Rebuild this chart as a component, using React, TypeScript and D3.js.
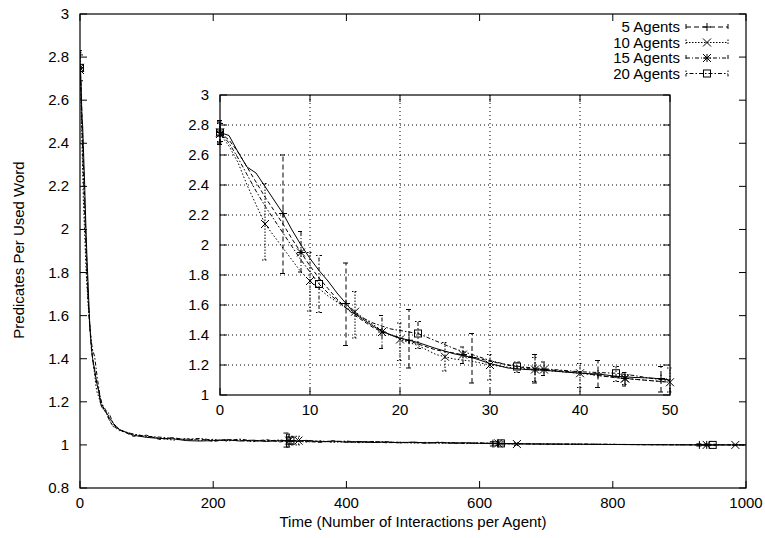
import React from "react";
import * as d3 from "d3";

// ---------- data ----------
const seriesNames = ["5 Agents", "10 Agents", "15 Agents", "20 Agents"];
const markerTypes = ["plus", "cross", "star", "square"];

// x grid (interactions per agent)
const xGrid = [
  0, 1, 2, 3, 4, 5, 6, 7, 8, 9, 10, 11, 12, 13, 14, 15, 16, 17, 18, 19, 20,
  22, 24, 26, 28, 30, 32, 34, 36, 38, 40, 42, 44, 46, 48, 50,
  55, 60, 80, 100, 120, 140, 160, 180, 200, 220, 240, 260, 280, 300, 320, 340, 360, 380, 400,
  420, 440, 460, 480, 500, 520, 540, 560, 580, 600, 650, 700, 750, 800, 850, 900, 950, 1000,
];

const agents5 = [
  2.75, 2.73, 2.62, 2.52, 2.48, 2.39, 2.3, 2.21, 2.1, 2.0, 1.91, 1.83, 1.76, 1.68, 1.61, 1.54, 1.5, 1.46, 1.425, 1.4, 1.38,
  1.35, 1.31, 1.275, 1.25, 1.21, 1.18, 1.17, 1.165, 1.155, 1.145, 1.14, 1.125, 1.117, 1.113, 1.1,
  1.085, 1.07, 1.045, 1.035, 1.03, 1.028, 1.02, 1.018, 1.02, 1.024, 1.018, 1.022, 1.016, 1.02, 1.017, 1.021, 1.014, 1.018, 1.012,
  1.016, 1.011, 1.014, 1.01, 1.013, 1.009, 1.011, 1.008, 1.01, 1.007, 1.005, 1.004, 1.003, 1.002, 1.001, 1.0, 1.0, 1.0,
];
const agents10 = [
  2.74, 2.66, 2.55, 2.4, 2.27, 2.14, 2.06, 1.98, 1.9, 1.82, 1.76, 1.71, 1.66, 1.62, 1.58, 1.555, 1.51, 1.47, 1.43, 1.4, 1.37,
  1.33, 1.27, 1.24, 1.225, 1.2, 1.185, 1.175, 1.165, 1.155, 1.145, 1.13, 1.12, 1.105, 1.095, 1.085,
  1.075, 1.065, 1.05, 1.038, 1.032, 1.022, 1.03, 1.02, 1.026, 1.018, 1.024, 1.015, 1.022, 1.017, 1.02, 1.013, 1.019, 1.012, 1.016,
  1.01, 1.015, 1.011, 1.013, 1.008, 1.012, 1.008, 1.01, 1.006, 1.009, 1.004, 1.005, 1.003, 1.002, 1.002, 1.001, 1.0, 1.0,
];
const agents15 = [
  2.75, 2.7, 2.62, 2.52, 2.42, 2.32, 2.23, 2.14, 2.04, 1.95, 1.86, 1.78, 1.71, 1.64, 1.58, 1.53, 1.49, 1.45, 1.42, 1.4, 1.38,
  1.34, 1.3, 1.28, 1.255, 1.225, 1.2, 1.18, 1.17, 1.16, 1.15, 1.13, 1.115, 1.105, 1.095, 1.085,
  1.08, 1.07, 1.04, 1.045, 1.025, 1.034, 1.022, 1.028, 1.016, 1.025, 1.02, 1.017, 1.024, 1.014, 1.021, 1.016, 1.012, 1.019, 1.014,
  1.013, 1.016, 1.01, 1.012, 1.011, 1.008, 1.013, 1.007, 1.009, 1.008, 1.006, 1.003, 1.004, 1.002, 1.001, 1.001, 1.0, 1.0,
];
const agents20 = [
  2.75, 2.68, 2.58, 2.47, 2.36, 2.26, 2.17, 2.08, 1.99, 1.9, 1.82, 1.74, 1.68, 1.63, 1.58, 1.54, 1.51, 1.48, 1.46, 1.44, 1.43,
  1.41, 1.36, 1.31, 1.27, 1.23, 1.2, 1.185, 1.175, 1.165, 1.155, 1.15, 1.145, 1.13, 1.11, 1.095,
  1.08, 1.068, 1.05, 1.04, 1.036, 1.03, 1.026, 1.03, 1.022, 1.02, 1.027, 1.019, 1.018, 1.023, 1.015, 1.02, 1.017, 1.014, 1.018,
  1.012, 1.013, 1.015, 1.009, 1.012, 1.01, 1.009, 1.011, 1.007, 1.009, 1.006, 1.004, 1.003, 1.003, 1.001, 1.001, 1.001, 1.0,
];

// error bars shown in the inset: [x, mean, low, high]
const insetErr5 = [
  [0, 2.75, 2.67, 2.83], [7, 2.21, 1.81, 2.6], [14, 1.61, 1.33, 1.88], [21, 1.365, 1.18, 1.57],
  [28, 1.25, 1.08, 1.41], [35, 1.168, 1.08, 1.27], [42, 1.14, 1.05, 1.23], [49, 1.11, 1.02, 1.19],
];
const insetErr10 = [
  [0, 2.74, 2.68, 2.82], [5, 2.14, 1.9, 2.41], [10, 1.76, 1.56, 1.95], [15, 1.555, 1.38, 1.69],
  [20, 1.37, 1.23, 1.48], [25, 1.255, 1.16, 1.35], [30, 1.2, 1.1, 1.27], [35, 1.17, 1.09, 1.25],
  [40, 1.145, 1.05, 1.21], [45, 1.11, 1.07, 1.15], [50, 1.085, 1.02, 1.18],
];
const insetErr15 = [
  [0, 2.75, 2.68, 2.82], [9, 1.95, 1.82, 2.09], [18, 1.42, 1.31, 1.53], [27, 1.27, 1.21, 1.32],
  [36, 1.17, 1.13, 1.22], [45, 1.11, 1.06, 1.15],
];
const insetErr20 = [
  [0, 2.75, 2.69, 2.81], [11, 1.74, 1.55, 1.93], [22, 1.41, 1.31, 1.49], [33, 1.19, 1.15, 1.22],
  [44, 1.145, 1.09, 1.19],
];

// error bars shown in the main plot
const mainErr5 = [[0, 2.75, 2.67, 2.83], [310, 1.02, 0.99, 1.055], [620, 1.006, 0.995, 1.015], [930, 1.0, 0.995, 1.005]];
const mainErr10 = [[0, 2.74, 2.68, 2.82], [328, 1.02, 1.0, 1.04], [656, 1.004, 0.998, 1.01], [984, 1.0, 0.997, 1.003]];
const mainErr15 = [[0, 2.75, 2.68, 2.82], [314, 1.02, 0.99, 1.05], [628, 1.007, 0.998, 1.015], [941, 1.0, 0.996, 1.004]];
const mainErr20 = [[0, 2.75, 2.69, 2.81], [316, 1.02, 1.0, 1.04], [632, 1.007, 1.0, 1.014], [950, 1.0, 0.997, 1.003]];

const mainXTicks = [0, 200, 400, 600, 800, 1000];
const mainYTicks = [0.8, 1, 1.2, 1.4, 1.6, 1.8, 2, 2.2, 2.4, 2.6, 2.8, 3];
const insetXTicks = [0, 10, 20, 30, 40, 50];
const insetYTicks = [1, 1.2, 1.4, 1.6, 1.8, 2, 2.2, 2.4, 2.6, 2.8, 3];

// ---------- styles ----------
const curveDash = ["", "1.5,2", "4,2.5", "4,2,1.5,2"];
const errDash = ["5,3", "1.5,1.5", "4,2,1,2", "1.5,2,4,2"];

const FONT = "'Liberation Sans', Arial, Helvetica, sans-serif";
const FS = 15;

const series = [agents5, agents10, agents15, agents20];
const insetErrs = [insetErr5, insetErr10, insetErr15, insetErr20];
const mainErrs = [mainErr5, mainErr10, mainErr15, mainErr20];

function Marker({ type, x, y, s = 4 }: { type: string; x: number; y: number; s?: number }) {
  const st = { stroke: "#000", strokeWidth: 1, fill: "none" };
  if (type === "plus")
    return <path d={`M${x - s},${y}H${x + s}M${x},${y - s}V${y + s}`} {...st} />;
  if (type === "cross")
    return <path d={`M${x - s},${y - s}L${x + s},${y + s}M${x - s},${y + s}L${x + s},${y - s}`} {...st} />;
  if (type === "star")
    return (
      <path
        d={`M${x - s},${y}H${x + s}M${x},${y - s}V${y + s}M${x - s},${y - s}L${x + s},${y + s}M${x - s},${y + s}L${x + s},${y - s}`}
        {...st}
      />
    );
  return <rect x={x - s + 0.5} y={y - s + 0.5} width={2 * s - 1} height={2 * s - 1} {...st} />;
}

function ErrBars({ data, xs, ys, dash, marker, cap = 3 }: any) {
  return (
    <g>
      {data.map((d: number[], i: number) => {
        const x = xs(d[0]);
        return (
          <g key={i}>
            <path
              d={`M${x},${ys(d[2])}V${ys(d[3])}M${x - cap},${ys(d[2])}H${x + cap}M${x - cap},${ys(d[3])}H${x + cap}`}
              stroke="#000"
              strokeWidth={1}
              strokeDasharray={dash}
              fill="none"
            />
            <Marker type={marker} x={x} y={ys(d[1])} />
          </g>
        );
      })}
    </g>
  );
}

const fmt = (v: number) => String(+v.toFixed(2));

export default function App() {
  // main plot
  const mx = d3.scaleLinear().domain([0, 1000]).range([80, 746]);
  const my = d3.scaleLinear().domain([0.8, 3]).range([488, 14]);
  // inset
  const ix = d3.scaleLinear().domain([0, 50]).range([220, 670]);
  const iy = d3.scaleLinear().domain([1, 3]).range([395, 95]);

  const mainLine = d3
    .line<number>()
    .x((_, i) => mx(xGrid[i]))
    .y((d) => my(d));
  const insetLine = d3
    .line<number>()
    .x((_, i) => ix(xGrid[i]))
    .y((d) => iy(d));

  const tickLen = 7;
  const legendY = [27, 42.5, 58, 73.5];

  return (
    <svg
      width={765}
      height={538}
      style={{ position: "absolute", left: 0, top: 0, background: "#fff" }}
      fontFamily={FONT}
      fontSize={FS}
    >
      <rect x={0} y={0} width={765} height={538} fill="#fff" />
      <defs>
        <clipPath id="mainClip">
          <rect x={80} y={14} width={666} height={474} />
        </clipPath>
        <clipPath id="insetClip">
          <rect x={220} y={95} width={450} height={300} />
        </clipPath>
      </defs>

      {/* main curves */}
      <g clipPath="url(#mainClip)">
        {series.map((s, k) => (
          <path key={k} d={mainLine(s) || ""} fill="none" stroke="#000" strokeWidth={1} strokeDasharray={curveDash[k]} />
        ))}
        {mainErrs.map((e, k) => (
          <ErrBars key={k} data={e} xs={mx} ys={my} dash={errDash[k]} marker={markerTypes[k]} />
        ))}
      </g>

      {/* main ticks */}
      {mainXTicks.map((t) => (
        <g key={"mx" + t}>
          <line x1={mx(t)} x2={mx(t)} y1={488} y2={488 - tickLen} stroke="#000" />
          <line x1={mx(t)} x2={mx(t)} y1={14} y2={14 + tickLen} stroke="#000" />
          <text x={mx(t)} y={508} textAnchor="middle">{fmt(t)}</text>
        </g>
      ))}
      {mainYTicks.map((t) => (
        <g key={"my" + t}>
          <line x1={80} x2={80 + tickLen} y1={my(t)} y2={my(t)} stroke="#000" />
          <line x1={746} x2={746 - tickLen} y1={my(t)} y2={my(t)} stroke="#000" />
          <text x={69} y={my(t) + 5} textAnchor="end">{fmt(t)}</text>
        </g>
      ))}
      <rect x={80} y={14} width={666} height={474} fill="none" stroke="#000" strokeWidth={1.2} />

      {/* axis titles */}
      <text x={413} y={527} textAnchor="middle">Time (Number of Interactions per Agent)</text>
      <text transform="translate(24,250) rotate(-90)" textAnchor="middle">Predicates Per Used Word</text>

      {/* legend */}
      {seriesNames.map((n, k) => (
        <g key={n}>
          <text x={680} y={legendY[k] + 5} textAnchor="end">{n}</text>
          <path
            d={`M686,${legendY[k]}H728M686,${legendY[k] - 3}V${legendY[k] + 3}M728,${legendY[k] - 3}V${legendY[k] + 3}`}
            stroke="#000"
            strokeWidth={1}
            strokeDasharray={errDash[k]}
            fill="none"
          />
          <Marker type={markerTypes[k]} x={707} y={legendY[k]} />
        </g>
      ))}

      {/* inset */}
      <rect x={220} y={95} width={450} height={300} fill="#fff" />
      {insetXTicks.slice(1, -1).map((t) => (
        <line key={"gx" + t} x1={ix(t)} x2={ix(t)} y1={95} y2={395} stroke="#000" strokeWidth={1} strokeDasharray="1,3" />
      ))}
      {insetYTicks.slice(1, -1).map((t) => (
        <line key={"gy" + t} x1={220} x2={670} y1={iy(t)} y2={iy(t)} stroke="#000" strokeWidth={1} strokeDasharray="1,3" />
      ))}
      <g clipPath="url(#insetClip)">
        {series.map((s, k) => (
          <path key={k} d={insetLine(s) || ""} fill="none" stroke="#000" strokeWidth={1} strokeDasharray={curveDash[k]} />
        ))}
      </g>
      {insetErrs.map((e, k) => (
        <ErrBars key={k} data={e} xs={ix} ys={iy} dash={errDash[k]} marker={markerTypes[k]} />
      ))}
      {insetXTicks.map((t) => (
        <g key={"ix" + t}>
          <line x1={ix(t)} x2={ix(t)} y1={395} y2={395 - tickLen} stroke="#000" />
          <line x1={ix(t)} x2={ix(t)} y1={95} y2={95 + tickLen} stroke="#000" />
          <text x={ix(t)} y={415} textAnchor="middle">{fmt(t)}</text>
        </g>
      ))}
      {insetYTicks.map((t) => (
        <g key={"iy" + t}>
          <line x1={220} x2={220 + tickLen} y1={iy(t)} y2={iy(t)} stroke="#000" />
          <line x1={670} x2={670 - tickLen} y1={iy(t)} y2={iy(t)} stroke="#000" />
          <text x={209} y={iy(t) + 5} textAnchor="end">{fmt(t)}</text>
        </g>
      ))}
      <rect x={220} y={95} width={450} height={300} fill="none" stroke="#000" strokeWidth={1.2} />
    </svg>
  );
}
